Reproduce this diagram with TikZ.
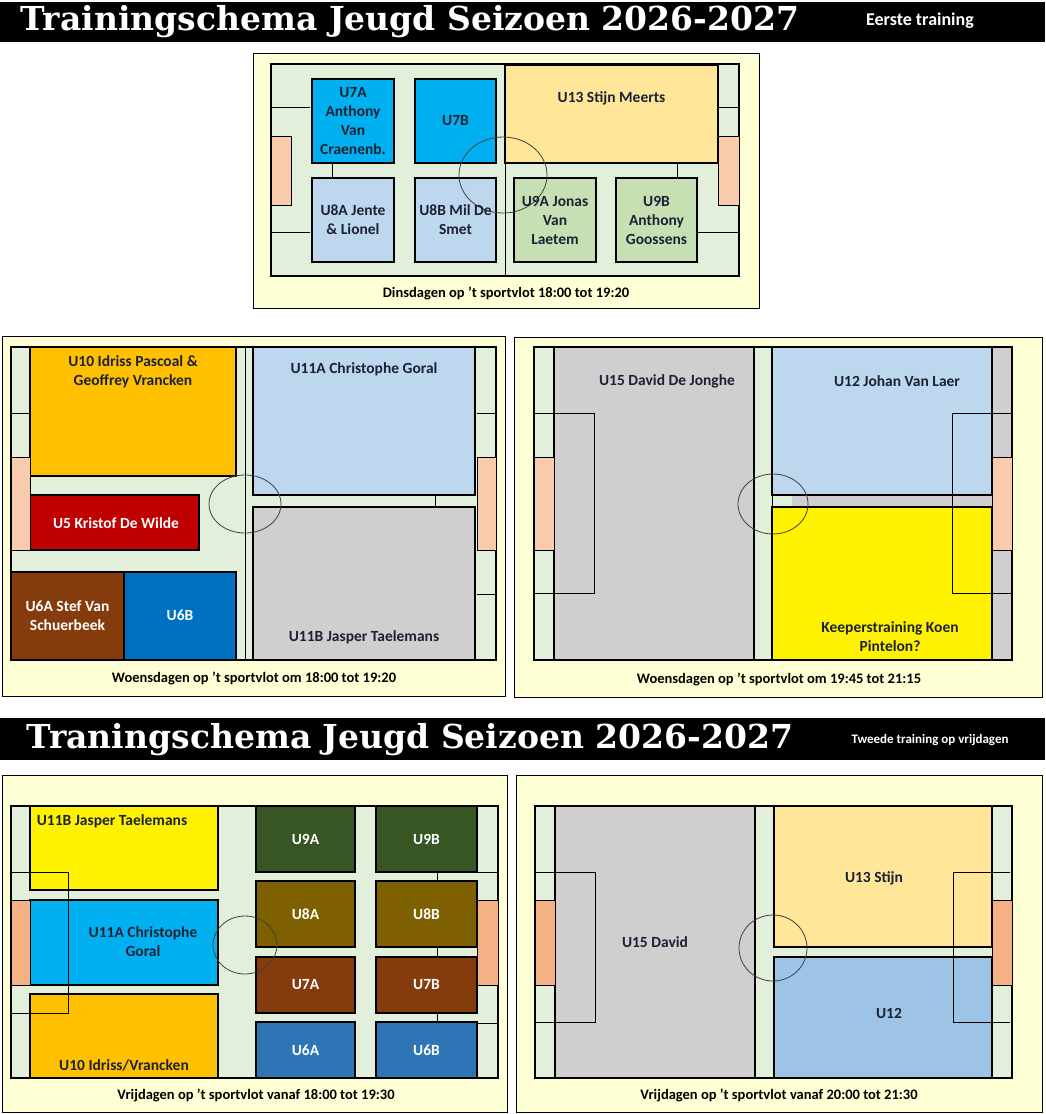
\documentclass[tikz,border=0pt]{standalone}
\usepackage{fontspec}
\setmainfont{Carlito}
\newfontfamily\titelfont{DejaVu Serif}
\usetikzlibrary{calc}
\definecolor{kaderbg}{HTML}{FFFFD5}
\definecolor{gras}{HTML}{E2EFDA}
\definecolor{doelkl}{HTML}{F8CBAD}
\definecolor{doeldk}{HTML}{F4B183}
\definecolor{oranjelicht}{HTML}{FFE699}
\definecolor{oranje}{HTML}{FFC000}
\definecolor{cyaan}{HTML}{00B0F0}
\definecolor{lichtblauw}{HTML}{BDD7EE}
\definecolor{middelblauw}{HTML}{9DC3E6}
\definecolor{lichtgroen}{HTML}{C6E0B4}
\definecolor{grijs}{HTML}{D0CECE}
\definecolor{rood}{HTML}{C00000}
\definecolor{bruin}{HTML}{843C0C}
\definecolor{blauw}{HTML}{0070C0}
\definecolor{staalblauw}{HTML}{2E75B6}
\definecolor{donkergroen}{HTML}{375623}
\definecolor{olijf}{HTML}{7F6000}
\definecolor{tekst}{HTML}{1C2233}
\tikzset{
  kader/.style={draw=black, fill=kaderbg, line width=1pt},
  veld/.style={draw=black, fill=gras, line width=1.6pt},
  vak/.style={draw=black, line width=1.3pt},
  doel/.style={draw=black, line width=0.6pt},
  lijn/.style={draw=black, line width=0.7pt},
  cirkel/.style={draw=black!75, line width=0.8pt},
  lbl/.style={font=\bfseries\fontsize{15.5}{19}\selectfont, text=tekst, align=center},
  wlbl/.style={lbl, text=white},
  onder/.style={font=\bfseries\fontsize{14.5}{16}\selectfont, text=black},
  titel/.style={font=\titelfont\bfseries\fontsize{33}{36}\selectfont, text=white},
}
\newcommand{\vak}[4]{\draw[vak, fill=#2] (#3) rectangle (#4); \coordinate (#1) at ($(#3)!0.5!(#4)$);}
\newcommand{\doel}[3]{\draw[doel, fill=#1] (#2) rectangle (#3);}
\begin{document}
\begin{tikzpicture}[x=1pt, y=-1pt]
\useasboundingbox (0,0) rectangle (1045,1114);
\fill[white] (0,0) rectangle (1045,1114);

% koppen
\fill[black] (0,2) rectangle (1045,42);
\node[titel] (kop1) at (410,22) {Trainingschema Jeugd Seizoen 2026-2027};
\node[font=\bfseries\fontsize{18}{20}\selectfont, text=white] (kop1b) at (920,21) {Eerste training};
\fill[black] (0,718) rectangle (1045,760);
\node[titel] (kop2) at (410,740) {Traningschema Jeugd Seizoen 2026-2027};
\node[font=\bfseries\fontsize{13}{15}\selectfont, text=white] (kop2b) at (930,740) {Tweede training op vrijdagen};

% dinsdag
\draw[kader] (253,53) rectangle (759,308);
\draw[veld] (271,64) rectangle (739,276);
\draw[lijn] (505,64) -- (505,276);
\vak{u13}{oranjelicht}{505,65}{718,163}
\doel{doelkl}{271,136}{291,205}
\doel{doelkl}{718,136}{739,205}
\draw[lijn] (271,107) -- (310,107) (271,232) -- (310,232);
\draw[lijn] (718,107) -- (739,107) (697,232) -- (739,232);
\draw[lijn] (332,163) -- (332,178) (677,163) -- (677,178);
\vak{u7a}{cyaan}{312,79}{394,163}
\vak{u7b}{cyaan}{415,79}{496,163}
\vak{u8a}{lichtblauw}{312,178}{394,262}
\vak{u8b}{lichtblauw}{415,178}{496,262}
\vak{u9a}{lichtgroen}{514,178}{596,262}
\vak{u9b}{lichtgroen}{616,178}{697,262}
\draw[cirkel] (503,175) ellipse [x radius=44, y radius=38];
\node[lbl] at (u7a) {U7A\\Anthony\\Van\\Craenenb.};
\node[lbl] at (u7b) {U7B};
\node[lbl] at ($(u13)+(0,-16)$) {U13 Stijn Meerts};
\node[lbl] at (u8a) {U8A Jente\\\& Lionel};
\node[lbl] at (u8b) {U8B Mil De\\Smet};
\node[lbl] at (u9a) {U9A Jonas\\Van\\Laetem};
\node[lbl] at (u9b) {U9B\\Anthony\\Goossens};
\node[onder] (cap1) at (506,293) {Dinsdagen op 't sportvlot 18:00 tot 19:20};

% woensdag vroeg
\draw[kader] (2,336) rectangle (505,696);
\draw[veld] (11,347) rectangle (496,660);
\vak{u10}{oranje}{30,347}{236,476}
\draw[lijn] (245,347) -- (245,660);
\vak{u11a}{lichtblauw}{253,347}{475,495}
\vak{u11b}{grijs}{253,507}{475,660}
\draw[lijn] (435,495) -- (435,507);
\vak{u5}{rood}{30,495}{199,550}
\vak{u6a}{bruin}{11,572}{124,660}
\vak{u6b}{blauw}{124,572}{236,660}
\doel{doelkl}{11,457}{30,550}
\doel{doelkl}{477,457}{496,550}
\draw[lijn] (11,413) -- (30,413) (477,413) -- (496,413) (477,594) -- (496,594);
\draw[cirkel] (245,504) ellipse [x radius=36, y radius=29];
\node[lbl] at (133,372) {U10 Idriss Pascoal \&\\Geoffrey Vrancken};
\node[lbl] at (364,369) {U11A Christophe Goral};
\node[lbl] at (364,637) {U11B Jasper Taelemans};
\node[wlbl] at (116,523) {U5 Kristof De Wilde};
\node[wlbl] at (u6a) {U6A Stef Van\\Schuerbeek};
\node[wlbl] at ($(u6b)+(0,-1)$) {U6B};
\node[onder] (cap2) at (254,678) {Woensdagen op 't sportvlot om 18:00 tot 19:20};

% woensdag laat
\draw[kader] (514,337) rectangle (1042,697);
\draw[veld] (534,347) rectangle (1012,660);
\vak{u15}{grijs}{554,347}{754,660}
\fill[grijs] (992,347) rectangle (1012,660);
\fill[grijs] (792,495) rectangle (992,507);
\vak{u12}{lichtblauw}{772,347}{992,495}
\vak{keeper}{yellow}{772,507}{992,660}
\draw[lijn] (754,347) -- (754,660) (772,347) -- (772,660) (992,347) -- (992,660);
\draw[veld, fill=none] (534,347) rectangle (1012,660);
\doel{doelkl}{534,457}{554,550}
\doel{doelkl}{992,457}{1012,550}
\draw[lijn] (534,413) -- (594,413) -- (594,593) -- (534,593);
\draw[lijn] (1012,413) -- (952,413) -- (952,593) -- (1012,593);
\draw[cirkel] (773,504) ellipse [x radius=35, y radius=30];
\node[lbl] at (667,381) {U15 David De Jonghe};
\node[lbl] at (897,381) {U12 Johan Van Laer};
\node[lbl] at (890,637) {Keeperstraining Koen\\Pintelon?};
\node[onder] (cap3) at (779,679) {Woensdagen op 't sportvlot om 19:45 tot 21:15};

% vrijdag vroeg
\draw[kader] (2,775) rectangle (507,1112);
\draw[veld] (11,806) rectangle (498,1078);
\vak{v11b}{yellow}{30,806}{218,890}
\vak{v11a}{cyaan}{30,900}{218,985}
\vak{v10}{oranje}{30,994}{218,1078}
\doel{doeldk}{11,900}{30,985}
\doel{doeldk}{477,900}{498,985}
\draw[lijn] (11,872) -- (68,872) -- (68,1013) -- (11,1013);
\draw[lijn] (477,872) -- (498,872) (477,1023) -- (498,1023);
\draw[lijn] (437,872) -- (437,1022);
\vak{v9a}{donkergroen}{256,806}{355,872}
\vak{v9b}{donkergroen}{376,806}{477,872}
\vak{v8a}{olijf}{256,881}{355,947}
\vak{v8b}{olijf}{376,881}{477,947}
\vak{v7a}{bruin}{256,957}{355,1013}
\vak{v7b}{bruin}{376,957}{477,1013}
\vak{v6a}{staalblauw}{256,1022}{355,1078}
\vak{v6b}{staalblauw}{376,1022}{477,1078}
\draw[cirkel] (245,945) ellipse [x radius=32, y radius=29];
\node[lbl] at (112,821) {U11B Jasper Taelemans};
\node[lbl] at (143,942) {U11A Christophe\\Goral};
\node[lbl] at (124,1065) {U10 Idriss/Vrancken};
\foreach \n/\t in {v9a/U9A, v9b/U9B, v8a/U8A, v8b/U8B, v7a/U7A, v7b/U7B, v6a/U6A, v6b/U6B}
  \node[wlbl] at (\n) {\t};
\node[onder] (cap4) at (256,1095) {Vrijdagen op 't sportvlot vanaf 18:00 tot 19:30};

% vrijdag laat
\draw[kader] (516,775) rectangle (1042,1112);
\draw[veld] (535,806) rectangle (1012,1078);
\vak{w15}{grijs}{555,806}{755,1078}
\vak{w13}{oranjelicht}{774,806}{992,947}
\vak{w12}{middelblauw}{774,957}{992,1078}
\draw[lijn] (992,806) -- (992,1078);
\doel{doeldk}{535,900}{555,985}
\doel{doeldk}{992,900}{1012,985}
\draw[lijn] (535,872) -- (595,872) -- (595,1022) -- (535,1022);
\draw[lijn] (1010,872) -- (953,872) -- (953,1022) -- (1010,1022);
\draw[cirkel] (773,948) ellipse [x radius=34, y radius=33];
\node[lbl] at (w15) {U15 David};
\node[lbl] at (874,878) {U13 Stijn};
\node[lbl] at (889,1013) {U12};
\node[onder] (cap5) at (779,1095) {Vrijdagen op 't sportvlot vanaf 20:00 tot 21:30};
\end{tikzpicture}
\end{document}
